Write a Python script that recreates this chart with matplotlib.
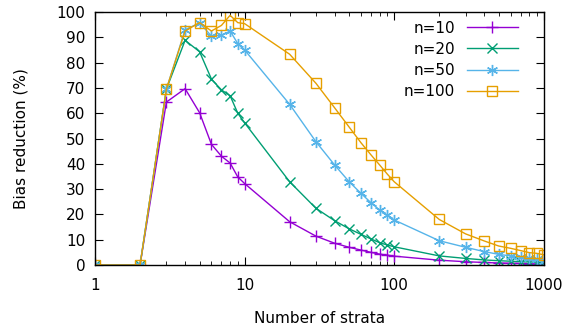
import numpy as np
import matplotlib.pyplot as plt

# number of strata
strata = [1, 2, 3, 4, 5, 6, 7, 8, 9, 10, 20, 30, 40, 50, 60, 70, 80, 90, 100,
          200, 300, 400, 500, 600, 700, 800, 900, 1000]

# bias reduction (%) per sample size
n10 = [0, 0, 64.4, 69.7, 60.2, 47.7, 43, 40.3, 34.8, 32.2, 17.1, 11.4, 8.6, 7.0,
       5.9, 5.0, 4.3, 3.9, 3.5, 1.9, 1.3, 1.0, 0.8, 0.7, 0.6, 0.5, 0.4, 0.4]
n20 = [0, 0, 69.5, 88.8, 84.3, 73.5, 69.2, 66.9, 60, 56.2, 32.9, 22.4, 17.5, 14.3,
       12.1, 10.3, 8.8, 7.9, 7.2, 3.6, 2.6, 2.0, 1.7, 1.5, 1.3, 1.2, 1.1, 1.0]
n50 = [0, 0, 69.5, 93, 95.7, 90.5, 90.8, 92.5, 87.5, 85, 63.5, 48.7, 39.5, 32.9,
       28.3, 24.6, 21.7, 19.7, 17.8, 9.6, 7.0, 5.3, 4.2, 3.6, 3.0, 2.6, 2.2, 1.7]
n100 = [0, 0, 69.5, 92.5, 95.8, 92.5, 94.7, 98.7, 95.8, 95.4, 83.3, 71.8, 62.1, 54.5,
        48.3, 43.5, 39.5, 35.9, 32.9, 18, 12.3, 9.5, 7.5, 6.6, 5.7, 4.9, 4.6, 4.0]

fig = plt.figure(figsize=(5.71, 3.29), dpi=100)
ax = fig.add_axes([0.1664, 0.1945, 0.786, 0.769])

ax.plot(strata, n10, color='#9400d3', lw=1, marker='+', ms=8, mew=1, label='n=10')
ax.plot(strata, n20, color='#009e73', lw=1, marker='x', ms=6.5, mew=1, label='n=20')
ax.plot(strata, n50, color='#56b4e9', lw=1, marker=(6, 2, 0), ms=8, mew=1, label='n=50')
ax.plot(strata, n100, color='#e69f00', lw=1, marker='s', ms=7, mew=1,
        mfc='none', label='n=100')

ax.set_xscale('log')
ax.set_xlim(1, 1000)
ax.set_ylim(0, 100)
ax.set_yticks(np.arange(0, 101, 10))
ax.set_xticks([1, 10, 100, 1000])
ax.set_xticklabels(['1', '10', '100', '1000'])
ax.tick_params(which='both', direction='in', top=True, right=True, labelsize=11)
ax.tick_params(which='major', length=6)
ax.tick_params(which='minor', length=3)
ax.tick_params(axis='x', which='major', pad=9)
ax.tick_params(axis='y', which='major', pad=7)
for s in ax.spines.values():
    s.set_linewidth(1)

ax.set_xlabel('Number of strata', fontsize=11, labelpad=13)
ax.set_ylabel('Bias reduction (%)', fontsize=11, labelpad=20)

ax.legend(loc='upper right', bbox_to_anchor=(0.955, 0.99), borderaxespad=0,
          frameon=False, markerfirst=False, fontsize=11,
          handlelength=3.3, labelspacing=0.4)

fig.savefig('out.png', dpi=100)
